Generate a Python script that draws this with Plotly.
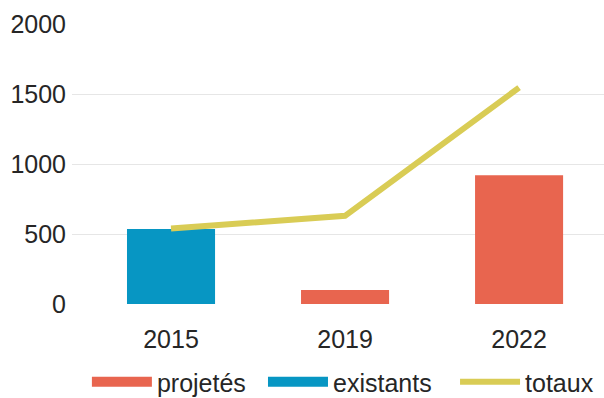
import plotly.graph_objects as go

years = ["2015", "2019", "2022"]
existants = [535, None, None]
projetes = [None, 100, 920]
totaux = [540, 630, 1545]
y_ticks = [0, 500, 1000, 1500, 2000]

RED = "#E8654F"
BLUE = "#0796C3"
YELLOW = "#D9CC55"
TXT = "#262626"
FONT = "Liberation Sans, Arial, sans-serif"

fig = go.Figure()
fig.add_trace(go.Bar(x=years, y=existants, marker=dict(color=BLUE, line=dict(width=0)),
                     width=0.506, showlegend=False, name="existants"))
fig.add_trace(go.Bar(x=years, y=projetes, marker=dict(color=RED, line=dict(width=0)),
                     width=0.506, showlegend=False, name="projetés"))
fig.add_trace(go.Scatter(x=years, y=totaux, mode="lines", name="totaux",
                         line=dict(color=YELLOW, width=6), legend="legend3"))
# legend entries for the bars
fig.add_trace(go.Scatter(x=[None], y=[None], mode="lines", name="projetés",
                         line=dict(color=RED, width=15), legend="legend"))
fig.add_trace(go.Scatter(x=[None], y=[None], mode="lines", name="existants",
                         line=dict(color=BLUE, width=15), legend="legend2"))

leg_common = dict(orientation="h", xanchor="left", y=-0.279, yanchor="middle",
                  itemwidth=60, font=dict(size=25, color=TXT, family=FONT),
                  bgcolor="rgba(0,0,0,0)", borderwidth=0)

fig.update_layout(
    width=604, height=398,
    margin=dict(l=72, r=0, t=24, b=94, autoexpand=False),
    paper_bgcolor="white", plot_bgcolor="white",
    font=dict(family=FONT, size=25, color=TXT),
    barmode="overlay",
    xaxis=dict(type="category", range=[-0.569, 2.488], showgrid=False, zeroline=False,
               showline=False, ticks="", ticklabelstandoff=18),
    yaxis=dict(range=[0, 2000], tickvals=y_ticks, showgrid=True, gridcolor="#E6E6E6",
               gridwidth=1, zeroline=False, showline=False, ticks="", ticklabelstandoff=5),
    legend=dict(x=0.028, **leg_common),
    legend2=dict(x=0.359, **leg_common),
    legend3=dict(x=0.720, **leg_common),
    showlegend=True,
)

fig.write_html("out.html")
